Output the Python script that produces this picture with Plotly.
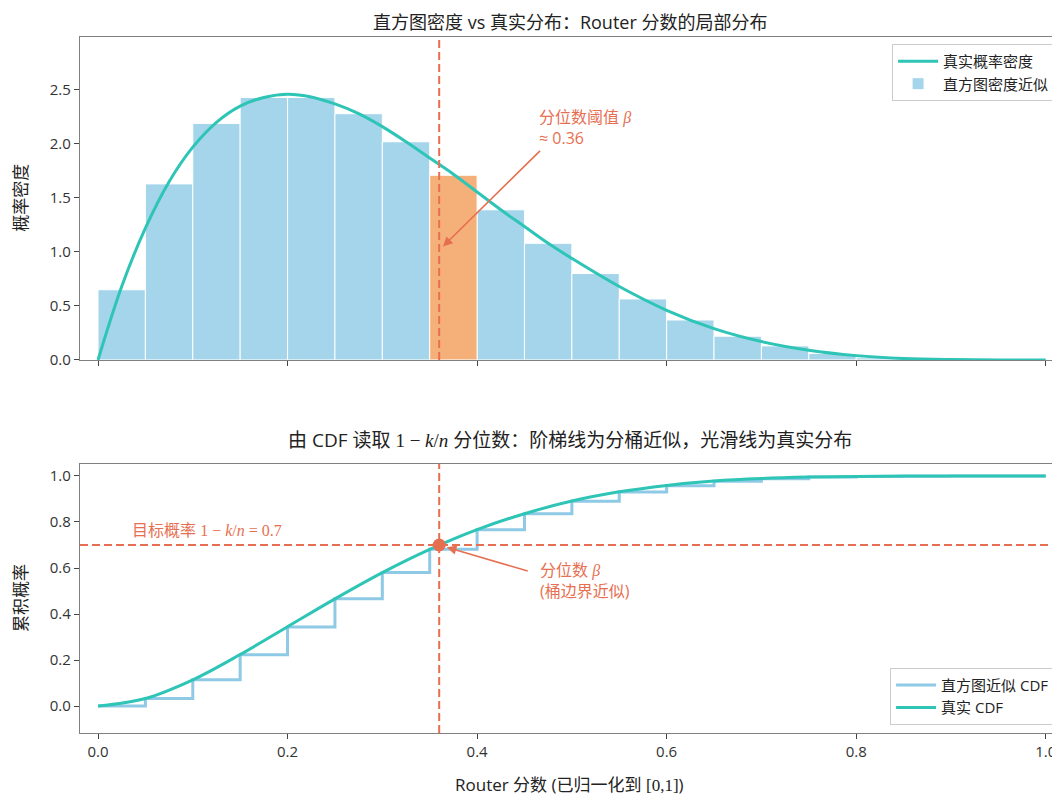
import plotly.graph_objects as go

# ---------------- data ----------------
bin_left = [0.00, 0.05, 0.10, 0.15, 0.20, 0.25, 0.30, 0.35, 0.40, 0.45,
            0.50, 0.55, 0.60, 0.65, 0.70, 0.75, 0.80, 0.85, 0.90, 0.95]
bin_width = 0.05
hist_density = [0.65, 1.63, 2.19, 2.43, 2.43, 2.28, 2.02, 1.71, 1.39, 1.08,
                0.80, 0.565, 0.37, 0.22, 0.13, 0.06, 0.02, 0.006, 0.001, 0.0]

pdf_x = [0.0, 0.025, 0.05, 0.075, 0.10, 0.125, 0.15, 0.175, 0.20, 0.225,
         0.25, 0.275, 0.30, 0.325, 0.35, 0.375, 0.40, 0.425, 0.45, 0.475,
         0.50, 0.55, 0.60, 0.65, 0.70, 0.75, 0.80, 0.85, 0.90, 0.95, 1.0]
pdf_y = [0.0, 0.68, 1.22, 1.65, 1.97, 2.20, 2.35, 2.43, 2.46, 2.435,
         2.37, 2.28, 2.16, 2.02, 1.87, 1.72, 1.555, 1.39, 1.235, 1.08,
         0.94, 0.68, 0.46, 0.29, 0.17, 0.09, 0.04, 0.013, 0.003, 0.0003, 0.0]

cdf_x = [0.0, 0.05, 0.10, 0.15, 0.20, 0.25, 0.30, 0.35, 0.40, 0.45, 0.50,
         0.55, 0.60, 0.65, 0.70, 0.75, 0.80, 0.85, 0.90, 0.95, 1.0]
cdf_true = [0.0, 0.033, 0.114, 0.224, 0.345, 0.466, 0.580, 0.681, 0.767, 0.836, 0.891,
            0.931, 0.959, 0.978, 0.989, 0.995, 0.998, 0.9996, 0.9999, 1.0, 1.0]
cdf_hist = [0.0, 0.033, 0.114, 0.223, 0.344, 0.466, 0.580, 0.681, 0.766, 0.836, 0.890,
            0.930, 0.958, 0.977, 0.988, 0.995, 0.998, 0.999, 1.0, 1.0, 1.0]

beta = 0.36
target_p = 0.7

# ---------------- styles ----------------
TEAL = "#2ec4b6"
BAR_BLUE = "#a5d5eb"
STEP_BLUE = "#8ecae6"
ORANGE = "#f5b079"
CORAL = "#e76f51"
AXIS_GREY = "#808080"
TXT = "#333333"
FONT = "'Open Sans', 'Noto Sans CJK SC', sans-serif"
SERIF_SPAN = "<span style=\"font-family:'Liberation Serif'\">{}</span>"

fig = go.Figure()

# histogram bars (orange = bucket containing beta)
in_beta = [l <= beta < l + bin_width for l in bin_left]
blue_x = [l for l, b in zip(bin_left, in_beta) if not b]
blue_h = [h for h, b in zip(hist_density, in_beta) if not b]
org_x = [l for l, b in zip(bin_left, in_beta) if b]
org_h = [h for h, b in zip(hist_density, in_beta) if b]

fig.add_trace(go.Bar(x=blue_x, y=blue_h, width=bin_width, offset=0,
                     marker=dict(color=BAR_BLUE, line=dict(color="white", width=1)),
                     name="直方图密度近似", legend="legend", legendrank=2,
                     xaxis="x", yaxis="y"))
fig.add_trace(go.Bar(x=org_x, y=org_h, width=bin_width, offset=0,
                     marker=dict(color=ORANGE, line=dict(color="white", width=1)),
                     showlegend=False, xaxis="x", yaxis="y"))
fig.add_trace(go.Scatter(x=pdf_x, y=pdf_y, mode="lines",
                         line=dict(color=TEAL, width=3, shape="spline"),
                         name="真实概率密度", legend="legend", legendrank=1,
                         xaxis="x", yaxis="y"))

# CDF panel
fig.add_trace(go.Scatter(x=cdf_x, y=cdf_hist, mode="lines",
                         line=dict(color=STEP_BLUE, width=3, shape="hv"),
                         name="直方图近似 CDF", legend="legend2",
                         xaxis="x2", yaxis="y2"))
fig.add_trace(go.Scatter(x=cdf_x, y=cdf_true, mode="lines",
                         line=dict(color=TEAL, width=3, shape="spline"),
                         name="真实 CDF", legend="legend2",
                         xaxis="x2", yaxis="y2"))
fig.add_trace(go.Scatter(x=[beta], y=[target_p], mode="markers",
                         marker=dict(color=CORAL, size=13),
                         showlegend=False, xaxis="x2", yaxis="y2"))

# reference lines
dash = "8px,4px"
fig.add_shape(type="line", xref="x", yref="y domain", x0=beta, x1=beta, y0=0, y1=1,
              line=dict(color=CORAL, width=2, dash=dash), layer="above")
fig.add_shape(type="line", xref="x2", yref="y2 domain", x0=beta, x1=beta, y0=0, y1=1,
              line=dict(color=CORAL, width=2, dash=dash), layer="above")
fig.add_shape(type="line", xref="x2 domain", yref="y2", x0=0, x1=1, y0=target_p, y1=target_p,
              line=dict(color=CORAL, width=2, dash=dash), layer="above")

axis_common = dict(showgrid=False, zeroline=False, showline=True, linecolor=AXIS_GREY,
                   linewidth=1.3, mirror=True, ticks="outside", ticklen=5,
                   tickcolor="#444444", tickwidth=1.2,
                   tickfont=dict(family=FONT, size=15, color=TXT))

xr = [-0.019, 1.014]
legend_common = dict(bgcolor="rgba(255,255,255,0.9)", bordercolor="#cccccc", borderwidth=1,
                     font=dict(family=FONT, size=15, color="#222222"), tracegroupgap=2,
                     itemwidth=40)
fig.update_layout(
    width=1060, height=805,
    margin=dict(l=72, r=9, t=29, b=80),
    plot_bgcolor="white", paper_bgcolor="white",
    font=dict(family=FONT, color=TXT),
    barmode="overlay",
    xaxis=dict(domain=[0, 1], range=xr, anchor="y", dtick=0.2, tick0=0,
               showticklabels=False, **axis_common),
    yaxis=dict(domain=[0.536, 1], range=[0, 2.99], anchor="x", dtick=0.5,
               tickformat=".1f", **axis_common),
    xaxis2=dict(domain=[0, 1], range=xr, anchor="y2", dtick=0.2, tick0=0,
                tickformat=".1f", **axis_common),
    yaxis2=dict(domain=[0, 0.3865], range=[-0.117, 1.052], anchor="x2", dtick=0.2,
                tick0=0, tickformat=".1f", **axis_common),
    legend=dict(x=0.996, y=0.99, xanchor="right", yanchor="top", **legend_common),
    legend2=dict(x=0.996, y=0.012, xanchor="right", yanchor="bottom", **legend_common),
)

ann = []
# titles
ann.append(dict(text="直方图密度 vs 真实分布：Router 分数的局部分布", xref="paper", yref="paper",
                x=0.5, y=1.022, xanchor="center", yanchor="middle", showarrow=False,
                font=dict(family=FONT, size=18, color="#222222")))
ann.append(dict(text=("由 CDF 读取 " + SERIF_SPAN.format("1 − <i>k</i>/<i>n</i>") +
                      " 分位数：阶梯线为分桶近似，光滑线为真实分布"),
                xref="paper", yref="paper", x=0.5, y=0.421, xanchor="center", yanchor="middle",
                showarrow=False, font=dict(family=FONT, size=19, color="#222222")))
# axis titles
ann.append(dict(text="概率密度", xref="paper", yref="paper", x=-0.0603, y=0.769,
                textangle=-90, showarrow=False, xanchor="center", yanchor="middle",
                font=dict(family=FONT, size=17, color="#222222")))
ann.append(dict(text="累积概率", xref="paper", yref="paper", x=-0.0603, y=0.194,
                textangle=-90, showarrow=False, xanchor="center", yanchor="middle",
                font=dict(family=FONT, size=17, color="#222222")))
ann.append(dict(text="Router 分数 (已归一化到 " + SERIF_SPAN.format("[0,1]") + ")",
                xref="paper", yref="paper", x=0.5, y=-0.0747, showarrow=False,
                xanchor="center", yanchor="middle",
                font=dict(family=FONT, size=17, color="#222222")))
# top annotation
ann.append(dict(text="分位数阈值 " + SERIF_SPAN.format("<i>β</i>") + "<br>≈ 0.36",
                xref="x", yref="y", x=0.463, y=2.37, xanchor="left", yanchor="top",
                align="left", showarrow=False,
                font=dict(family=FONT, size=16, color=CORAL)))
ann.append(dict(text="", xref="x", yref="y", x=0.364, y=1.05, ax=0.468, ay=1.95,
                axref="x", ayref="y", showarrow=True, arrowhead=2, arrowsize=1.2,
                arrowwidth=1.6, arrowcolor=CORAL, standoff=0, startstandoff=0))
# bottom annotations
ann.append(dict(text="目标概率 " + SERIF_SPAN.format("1 − <i>k</i>/<i>n</i> = 0.7"),
                xref="x2", yref="y2", x=0.034, y=0.765, xanchor="left", yanchor="middle",
                showarrow=False, font=dict(family=FONT, size=16, color=CORAL)))
ann.append(dict(text="分位数 " + SERIF_SPAN.format("<i>β</i>") + "<br>(桶边界近似)",
                xref="x2", yref="y2", x=0.464, y=0.65, xanchor="left", yanchor="top",
                align="left", showarrow=False,
                font=dict(family=FONT, size=16, color=CORAL)))
ann.append(dict(text="", xref="x2", yref="y2", x=0.368, y=0.69, ax=0.455, ay=0.585,
                axref="x2", ayref="y2", showarrow=True, arrowhead=2, arrowsize=1.2,
                arrowwidth=1.6, arrowcolor=CORAL, standoff=0, startstandoff=0))
fig.update_layout(annotations=ann)

fig.write_html("out.html")
